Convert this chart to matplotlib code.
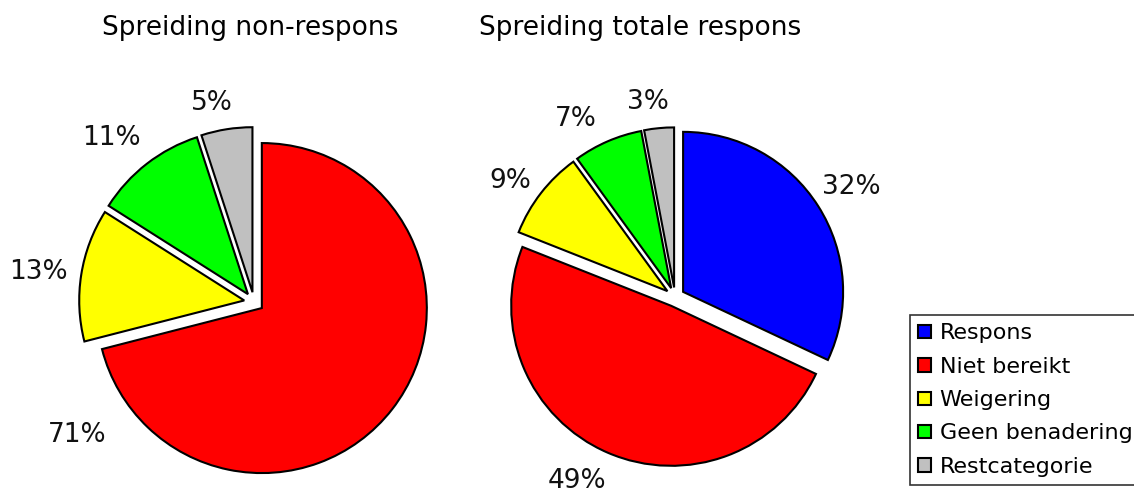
import numpy as np
import matplotlib.pyplot as plt

# non-respons verdeling (links) en totale respons (rechts)
cat_links = ['Niet bereikt', 'Weigering', 'Geen benadering', 'Restcategorie']
val_links = [71, 13, 11, 5]
cat_rechts = ['Respons', 'Niet bereikt', 'Weigering', 'Geen benadering', 'Restcategorie']
val_rechts = [32, 49, 9, 7, 3]

kleuren = {'Respons': '#0000FF', 'Niet bereikt': '#FF0000', 'Weigering': '#FFFF00',
           'Geen benadering': '#00FF00', 'Restcategorie': '#C0C0C0'}

# plaats van de percentages: hoek (met de klok mee vanaf boven) en afstand tot midden
lbl_links = [(233, 1.34), (278, 1.32), (319, 1.32), (348, 1.23)]
lbl_rechts = [(58, 1.30), (208, 1.30), (305, 1.26), (331, 1.275), (352, 1.23)]

W, H = 1134, 488
fig = plt.figure(figsize=(W / 100, H / 100), dpi=100)


def pie_axes(cx, cy, r, lim=1.5):
    size = 2 * r * lim
    ax = fig.add_axes([(cx - size / 2) / W, (H - cy - size / 2) / H, size / W, size / H])
    return ax


def teken(ax, waarden, cats, plaatsen):
    wedges, teksten = ax.pie(
        waarden, colors=[kleuren[c] for c in cats], startangle=90, counterclock=False,
        explode=[0.06] * len(waarden), labels=[f'{v}%' for v in waarden],
        wedgeprops=dict(edgecolor='black', linewidth=1.5),
        textprops=dict(fontsize=19, color='#111111'))
    ax.set_xlim(-1.5, 1.5)
    ax.set_ylim(-1.5, 1.5)
    ax.set_aspect('equal')
    ax.axis('off')
    for t, (hk, d) in zip(teksten, plaatsen):
        a = np.deg2rad(90 - hk)
        t.set_position((d * np.cos(a), d * np.sin(a)))
        t.set_ha('center')
        t.set_va('center')
    return wedges, teksten


ax1 = pie_axes(254, 302, 165)
teken(ax1, val_links, cat_links, lbl_links)

ax2 = pie_axes(675, 297, 160)
teken(ax2, val_rechts, cat_rechts, lbl_rechts)

fig.text(250 / W, 1 - 28 / H, 'Spreiding non-respons', ha='center', va='center', fontsize=19)
fig.text(640 / W, 1 - 28 / H, 'Spreiding totale respons', ha='center', va='center', fontsize=19)

handles = [plt.Rectangle((0, 0), 1, 1, facecolor=kleuren[c], edgecolor='black', linewidth=1.5)
           for c in cat_rechts]
leg = fig.legend(handles, cat_rechts, loc='upper left', bbox_to_anchor=(910 / W, 1 - 315 / H),
                 fontsize=16, frameon=True, fancybox=False, shadow=False,
                 handlelength=0.55, handleheight=0.55, handletextpad=0.4,
                 labelspacing=0.6, borderpad=0.38, borderaxespad=0)
leg.get_frame().set_edgecolor('black')
leg.get_frame().set_linewidth(1.2)

fig.savefig('out.png', dpi=100)
